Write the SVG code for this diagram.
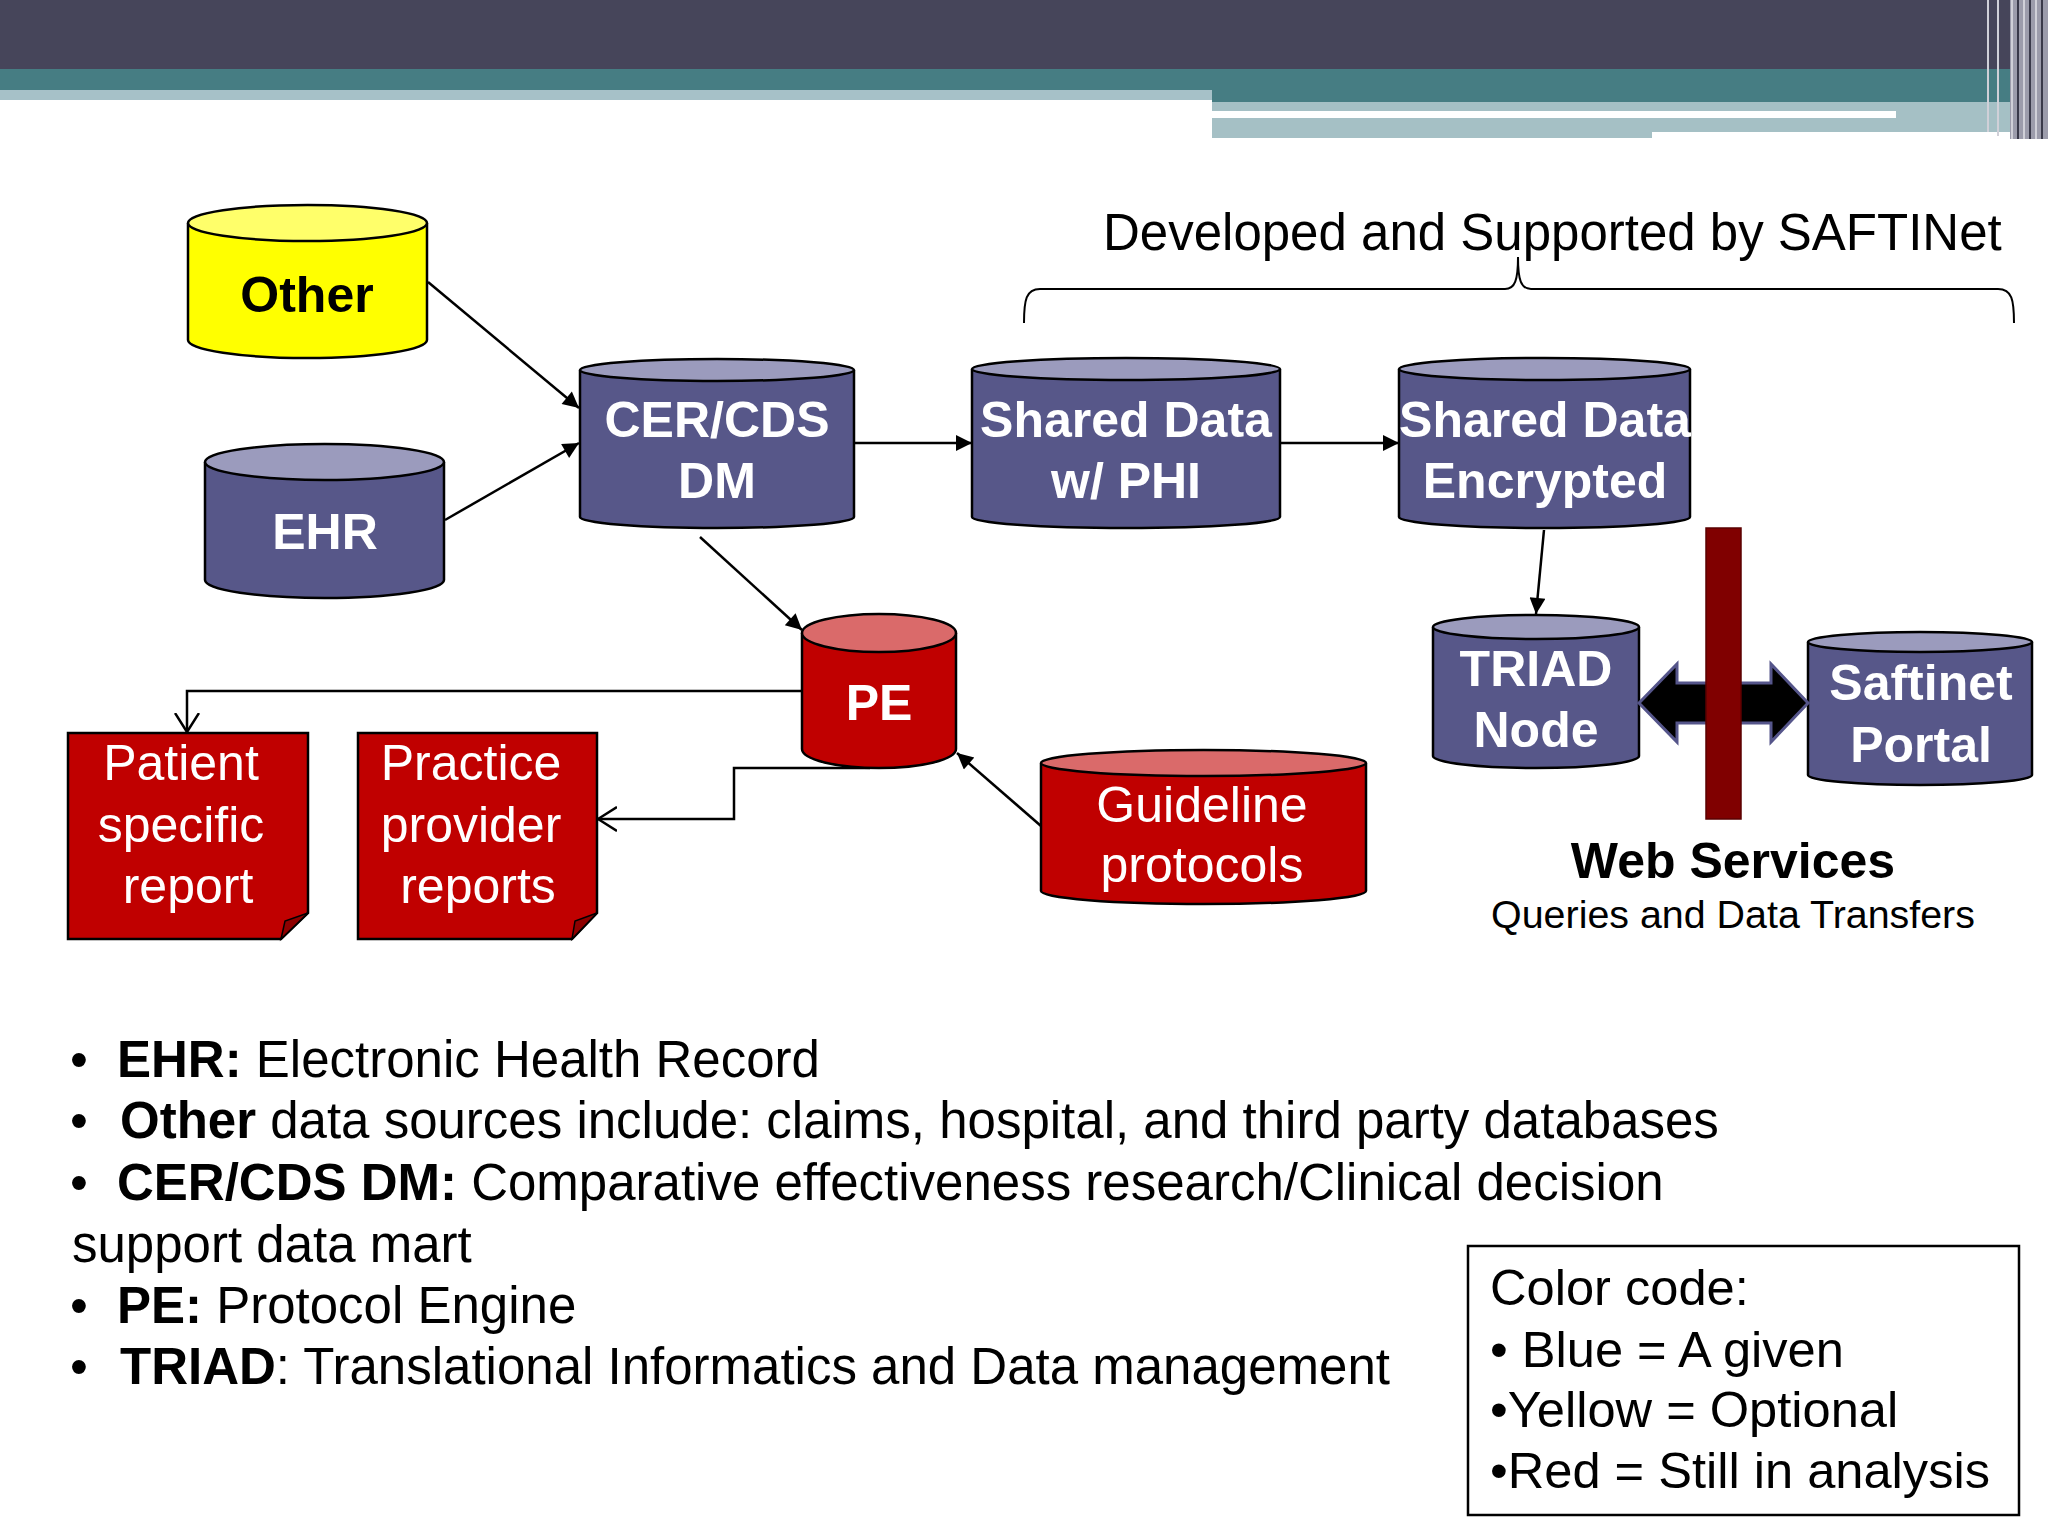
<svg xmlns="http://www.w3.org/2000/svg" width="2048" height="1536" viewBox="0 0 2048 1536">
<defs>
<style>
.cb{fill:#575789;stroke:#000;stroke-width:2.5}
.ct{fill:#9b9bbd;stroke:#000;stroke-width:2.5}
.rb{fill:#c00000;stroke:#000;stroke-width:2.5}
.rt{fill:#da6a6a;stroke:#000;stroke-width:2.5}
.yb{fill:#ffff00;stroke:#000;stroke-width:2.5}
.yt{fill:#ffff6a;stroke:#000;stroke-width:2.5}
.lbl{font-family:"Liberation Sans",Arial,sans-serif;font-weight:bold;font-size:50px;fill:#fff;text-anchor:middle}
.lblr{font-family:"Liberation Sans",Arial,sans-serif;font-size:50px;fill:#fff;text-anchor:middle}
.txt{font-family:"Liberation Sans",Arial,sans-serif;font-size:50px;fill:#000}
.leg{font-family:"Liberation Sans",Arial,sans-serif;font-size:50.6px;fill:#000}
.notes{font-family:"Liberation Sans",Arial,sans-serif;font-size:51px;fill:#000}
.conn{fill:none;stroke:#000;stroke-width:2.5}
</style>
<marker id="ah" viewBox="0 0 10 10" refX="10" refY="5" markerUnits="userSpaceOnUse" markerWidth="22" markerHeight="16" orient="auto">
<path d="M0,0 L10,5 L0,10 Z" fill="#000"/>
</marker>
<marker id="oh" viewBox="0 0 20 26" refX="19" refY="13" markerUnits="userSpaceOnUse" markerWidth="20" markerHeight="26" orient="auto">
<path d="M0,1 L19,13 L0,25" fill="none" stroke="#000" stroke-width="2.5"/>
</marker>
</defs>

<!-- header bars -->
<g id="header">
<rect x="0" y="0" width="2048" height="69" fill="#46455a"/>
<rect x="0" y="69" width="2048" height="33" fill="#467d83"/>
<rect x="0" y="90" width="1212" height="10" fill="#a6c1c8"/>
<rect x="0" y="100" width="1212" height="2" fill="#fff"/>
<rect x="1212" y="102" width="798" height="36" fill="#a5c0c5"/>
<rect x="1212" y="111" width="684" height="7" fill="#fff"/>
<rect x="1652" y="132" width="358" height="7" fill="#fff"/>
<rect x="2010" y="0" width="38" height="139" fill="#9c9cab"/>
<g stroke="#d0d0d8" stroke-width="2">
<line x1="1988" y1="0" x2="1988" y2="132"/>
<line x1="1998" y1="0" x2="1998" y2="136"/>
<line x1="2012" y1="0" x2="2012" y2="139"/>
<line x1="2024" y1="0" x2="2024" y2="139"/>
<line x1="2036" y1="0" x2="2036" y2="139"/>
</g>
<g stroke="#3a3a4a" stroke-width="2">
<line x1="2018" y1="0" x2="2018" y2="139"/>
<line x1="2030" y1="0" x2="2030" y2="139"/>
<line x1="2042" y1="0" x2="2042" y2="139"/>
</g>
</g>

<!-- title and brace -->
<g id="title">
<text x="1103" y="250" class="txt" style="font-size:51px">Developed and Supported by SAFTINet</text>
<path d="M1024,323 C1024,300 1026,289 1040,289 L1505,289 C1515,289 1518,280 1518,257 C1518,280 1521,289 1531,289 L1998,289 C2012,289 2014,300 2014,323" fill="none" stroke="#000" stroke-width="2"/>
</g>

<!-- connectors -->
<g id="connectors">
<line class="conn" x1="428" y1="282" x2="579" y2="408" marker-end="url(#ah)"/>
<line class="conn" x1="445" y1="520" x2="579" y2="443" marker-end="url(#ah)"/>
<line class="conn" x1="854" y1="443" x2="972" y2="443" marker-end="url(#ah)"/>
<line class="conn" x1="1280" y1="443" x2="1399" y2="443" marker-end="url(#ah)"/>
<line class="conn" x1="1544" y1="530" x2="1536" y2="614" marker-end="url(#ah)"/>
<line class="conn" x1="700" y1="537" x2="802" y2="630" marker-end="url(#ah)"/>
<line class="conn" x1="1041" y1="826" x2="957" y2="753" marker-end="url(#ah)"/>
<polyline class="conn" points="802,691 187,691 187,732" marker-end="url(#oh)"/>
<polyline class="conn" points="870,768 734,768 734,819 598,819" marker-end="url(#oh)"/>
</g>

<!-- Other -->
<g id="node-other">
<path class="yb" d="M188,223 L188,340 A119.5,18 0 0 0 427,340 L427,223"/>
<ellipse class="yt" cx="307.5" cy="223" rx="119.5" ry="18"/>
<text x="307" y="312" class="lbl" style="fill:#000">Other</text>
</g>

<!-- EHR -->
<g id="node-ehr">
<path class="cb" d="M205,462 L205,580 A119.5,18 0 0 0 444,580 L444,462"/>
<ellipse class="ct" cx="324.5" cy="462" rx="119.5" ry="18"/>
<text x="325" y="549" class="lbl">EHR</text>
</g>

<!-- CER/CDS DM -->
<g id="node-cer">
<path class="cb" d="M580,370 L580,517 A137,11 0 0 0 854,517 L854,370"/>
<ellipse class="ct" cx="717" cy="370" rx="137" ry="11"/>
<text x="717" y="437" class="lbl">CER/CDS</text>
<text x="717" y="498" class="lbl">DM</text>
</g>

<!-- Shared Data w/ PHI -->
<g id="node-phi">
<path class="cb" d="M972,369 L972,517 A154,11 0 0 0 1280,517 L1280,369"/>
<ellipse class="ct" cx="1126" cy="369" rx="154" ry="11"/>
<text x="1126" y="437" class="lbl">Shared Data</text>
<text x="1126" y="498" class="lbl">w/ PHI</text>
</g>

<!-- Shared Data Encrypted -->
<g id="node-enc">
<path class="cb" d="M1399,369 L1399,517 A145.5,11 0 0 0 1690,517 L1690,369"/>
<ellipse class="ct" cx="1544.5" cy="369" rx="145.5" ry="11"/>
<text x="1545" y="437" class="lbl">Shared Data</text>
<text x="1545" y="498" class="lbl">Encrypted</text>
</g>

<!-- PE -->
<g id="node-pe">
<path class="rb" d="M802,633 L802,749 A77,19 0 0 0 956,749 L956,633"/>
<ellipse class="rt" cx="879" cy="633" rx="77" ry="19"/>
<text x="879" y="720" class="lbl">PE</text>
</g>

<!-- Guideline protocols -->
<g id="node-guideline">
<path class="rb" d="M1041,763 L1041,891 A162.5,13 0 0 0 1366,891 L1366,763"/>
<ellipse class="rt" cx="1203.5" cy="763" rx="162.5" ry="13"/>
<text x="1202" y="822" class="lblr">Guideline</text>
<text x="1202" y="882" class="lblr">protocols</text>
</g>

<!-- Patient specific report -->
<g id="node-patient">
<path class="rb" d="M68,733 L308,733 L308,913 L281,939 L68,939 Z"/>
<path d="M308,913 L285,921 L281,939 Z" fill="#8e0000" stroke="#000" stroke-width="1.5"/>
<text x="181" y="780" class="lblr">Patient</text>
<text x="181" y="842" class="lblr">specific</text>
<text x="188" y="903" class="lblr">report</text>
</g>

<!-- Practice provider reports -->
<g id="node-practice">
<path class="rb" d="M358,733 L597,733 L597,913 L572,939 L358,939 Z"/>
<path d="M597,913 L575,921 L572,939 Z" fill="#8e0000" stroke="#000" stroke-width="1.5"/>
<text x="471" y="780" class="lblr">Practice</text>
<text x="471" y="842" class="lblr">provider</text>
<text x="478" y="903" class="lblr">reports</text>
</g>

<!-- TRIAD Node -->
<g id="node-triad">
<path class="cb" d="M1433,627 L1433,756 A103,12 0 0 0 1639,756 L1639,627"/>
<ellipse class="ct" cx="1536" cy="627" rx="103" ry="12"/>
<text x="1536" y="686" class="lbl">TRIAD</text>
<text x="1536" y="747" class="lbl">Node</text>
</g>

<!-- Saftinet Portal -->
<g id="node-portal">
<path class="cb" d="M1808,642 L1808,775 A112,10 0 0 0 2032,775 L2032,642"/>
<ellipse class="ct" cx="1920" cy="642" rx="112" ry="10"/>
<text x="1921" y="700" class="lbl">Saftinet</text>
<text x="1921" y="762" class="lbl">Portal</text>
</g>

<!-- Web services double arrow and firewall bar -->
<g id="web-services">
<polygon points="1639,703 1677,664 1677,683 1771,683 1771,664 1808,703 1771,742 1771,723 1677,723 1677,742" fill="#000" stroke="#55558a" stroke-width="3"/>
<rect x="1706" y="528" width="35" height="291" fill="#800000" stroke="#5a0000" stroke-width="1.5"/>
<text x="1733" y="878" class="txt" style="font-size:50px;font-weight:bold;text-anchor:middle">Web Services</text>
<text x="1733" y="928" class="txt" style="font-size:39.4px;text-anchor:middle">Queries and Data Transfers</text>
</g>

<!-- definitions list -->
<g id="notes" class="notes">
<text x="70" y="1077">•</text><text x="117" y="1077"><tspan font-weight="bold">EHR:</tspan> Electronic Health Record</text>
<text x="70" y="1138">•</text><text x="120" y="1138"><tspan font-weight="bold">Other</tspan> data sources include: claims, hospital, and third party databases</text>
<text x="70" y="1200">•</text><text x="117" y="1200"><tspan font-weight="bold">CER/CDS DM:</tspan> Comparative effectiveness research/Clinical decision</text>
<text x="72" y="1262">support data mart</text>
<text x="70" y="1323">•</text><text x="117" y="1323"><tspan font-weight="bold">PE:</tspan> Protocol Engine</text>
<text x="70" y="1384">•</text><text x="120" y="1384"><tspan font-weight="bold">TRIAD</tspan>: Translational Informatics and Data management</text>
</g>

<!-- color code legend -->
<g id="legend">
<rect x="1468" y="1246" width="551" height="269" fill="#fff" stroke="#000" stroke-width="2.5"/>
<text x="1490" y="1305" class="leg">Color code:</text>
<text x="1490" y="1367" class="leg">• Blue = A given</text>
<text x="1490" y="1427" class="leg">•Yellow = Optional</text>
<text x="1490" y="1488" class="leg">•Red = Still in analysis</text>
</g>
</svg>
